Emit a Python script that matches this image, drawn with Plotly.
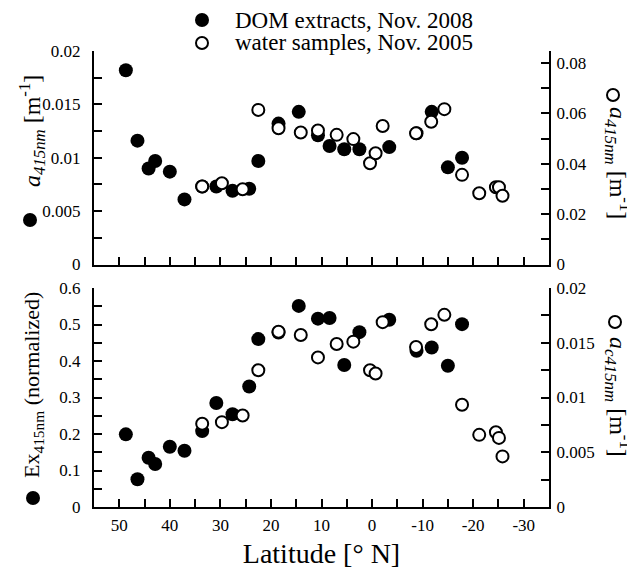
import plotly.graph_objects as go

# ---------------- data ----------------
lat_dom = [48.7, 46.4, 44.2, 42.9, 40.0, 37.1, 33.6, 30.8, 27.6, 24.3, 22.5,
           18.5, 14.5, 10.7, 8.4, 5.5, 2.5, -3.4, -8.8, -11.8, -15.0, -17.8]
a415_dom = [0.0182, 0.0116, 0.0090, 0.0097, 0.0087, 0.0061, 0.0073, 0.0073,
            0.0069, 0.0071, 0.0097, 0.0132, 0.0143, 0.0121, 0.0111, 0.0108,
            0.0108, 0.0110, 0.0123, 0.0143, 0.0091, 0.0100]
ex415_dom = [0.199, 0.076, 0.135, 0.118, 0.165, 0.154, 0.208, 0.285, 0.254,
             0.330, 0.460, 0.478, 0.551, 0.516, 0.518, 0.389, 0.479, 0.513,
             0.428, 0.437, 0.387, 0.501]

lat_water = [33.6, 29.7, 25.6, 22.5, 18.5, 14.1, 10.7, 7.0, 3.7, 0.4, -0.7,
             -2.1, -8.7, -11.7, -14.3, -17.8, -21.2, -24.5, -25.1, -25.8]
a415_water = [0.0310, 0.0323, 0.0299, 0.0614, 0.0541, 0.0524, 0.0532, 0.0515,
              0.0498, 0.0402, 0.0442, 0.0550, 0.0521, 0.0567, 0.0617, 0.0356,
              0.0283, 0.0307, 0.0307, 0.0273]
ac415_water = [0.00760, 0.00775, 0.00836, 0.01249, 0.01601, 0.01571, 0.01366,
               0.01488, 0.01510, 0.01249, 0.01219, 0.01688, 0.01461, 0.01669,
               0.01755, 0.00934, 0.00659, 0.00683, 0.00631, 0.00462]

x_tickvals = [50, 40, 30, 20, 10, 0, -10, -20, -30]
x_ticktext = ["50", "40", "30", "20", "10", "0", "-10", "-20", "-30"]
legend_dom = "DOM extracts, Nov. 2008"
legend_water = "water samples, Nov. 2005"

# ---------------- styling ----------------
FONT = "Liberation Serif"
OFF = 8                      # default page margin of the html body
W, H = 635 - OFF, 583 - OFF
ML, MR, MT, MB = 86, 86, 43, 76
PW, PH = W - ML - MR, H - MT - MB


def px_to_paper(px, py):
    """page pixel -> paper coordinates"""
    fx, fy = px - OFF, py - OFF
    return (fx - ML) / PW, (H - MB - fy) / PH


filled = dict(symbol="circle", size=14, color="black", line=dict(width=0))
opened = dict(symbol="circle", size=12, color="white",
              line=dict(width=2, color="black"))

fig = go.Figure()
fig.add_trace(go.Scatter(x=lat_dom, y=a415_dom, mode="markers", marker=filled,
                         xaxis="x2", yaxis="y3", name=legend_dom,
                         showlegend=False))
fig.add_trace(go.Scatter(x=lat_water, y=a415_water, mode="markers",
                         marker=opened, xaxis="x2", yaxis="y4",
                         name=legend_water, showlegend=False))
fig.add_trace(go.Scatter(x=lat_dom, y=ex415_dom, mode="markers", marker=filled,
                         xaxis="x", yaxis="y", name=legend_dom,
                         showlegend=False))
fig.add_trace(go.Scatter(x=lat_water, y=ac415_water, mode="markers",
                         marker=opened, xaxis="x", yaxis="y2",
                         name=legend_water, showlegend=False))

axis_common = dict(showline=True, linewidth=2, linecolor="black",
                   ticks="inside", ticklen=8, tickwidth=1.5, tickcolor="black",
                   showgrid=False, zeroline=False, mirror=False,
                   tickfont=dict(family=FONT, size=17, color="black"))
minor_common = dict(ticks="inside", ticklen=8, tickwidth=1.5,
                    tickcolor="black", showgrid=False)

top_dom = [(H - MB - (264.5 - OFF)) / PH, 1.0]
bot_dom = [0.0, (H - MB - (288 - OFF)) / PH]

fig.update_layout(
    width=W, height=H,
    margin=dict(l=ML, r=MR, t=MT, b=MB),
    paper_bgcolor="white", plot_bgcolor="white",
    font=dict(family=FONT, color="black"),
    showlegend=False,
    xaxis=dict(axis_common, domain=[0, 1], range=[55, -35], anchor="y",
               tickvals=x_tickvals, ticktext=x_ticktext,
               minor=dict(minor_common, dtick=5, tick0=0),
               ticklabelstandoff=2,
               title=dict(text="Latitude [° N]",
                          font=dict(family=FONT, size=28), standoff=9)),
    xaxis2=dict(axis_common, domain=[0, 1], range=[55, -35], anchor="y3",
                matches="x", tickvals=x_tickvals, showticklabels=False,
                minor=dict(minor_common, dtick=5, tick0=0)),
    yaxis=dict(axis_common, domain=bot_dom, range=[0, 0.6], anchor="x",
               dtick=0.1, minor=dict(minor_common, dtick=0.05),
               ticklabelstandoff=8),
    yaxis2=dict(axis_common, range=[0, 0.02], anchor="x", overlaying="y",
                side="right", dtick=0.005,
                minor=dict(minor_common, dtick=0.0025), ticklabelstandoff=2),
    yaxis3=dict(axis_common, domain=top_dom, range=[0, 0.02], anchor="x2",
                dtick=0.005, minor=dict(minor_common, dtick=0.0025),
                ticklabelstandoff=8),
    yaxis4=dict(axis_common, range=[0, 0.0848], anchor="x2", overlaying="y3",
                side="right", dtick=0.02,
                minor=dict(minor_common, dtick=0.01), ticklabelstandoff=2),
)

annotations = []
shapes = []


def circle(px, py, is_filled, d=14):
    x, y = px_to_paper(px, py)
    r = d / 2
    shapes.append(dict(type="circle", xref="paper", yref="paper",
                       xsizemode="pixel", ysizemode="pixel",
                       xanchor=x, yanchor=y, x0=-r, x1=r, y0=-r, y1=r,
                       fillcolor="black" if is_filled else "white",
                       line=dict(color="black", width=0 if is_filled else 2)))


def label(px, py, text, size, angle=0, xanchor="center"):
    x, y = px_to_paper(px, py)
    annotations.append(dict(xref="paper", yref="paper", x=x, y=y, text=text,
                            showarrow=False, textangle=angle,
                            xanchor=xanchor, yanchor="middle",
                            font=dict(family=FONT, size=size, color="black")))


# legend (top)
circle(202, 20, True)
circle(202, 43, False, d=12)
label(233, 20, legend_dom, 23, xanchor="left")
label(233, 43, legend_water, 23, xanchor="left")

# left axis titles
label(32, 131, "<i>a</i><sub><i>415nm</i></sub> [m<sup>-1</sup>]", 24, -90)
circle(30, 220, True)
label(33, 385, "Ex<sub>415nm</sub> (normalized)", 22, -90)
circle(33, 498, True)

# right axis titles
circle(613, 95, False, d=12)
label(618, 163, "<i>a</i><sub><i>415nm</i></sub> [m<sup>-1</sup>]", 24, 90)
circle(615, 322, False, d=12)
label(618, 397, "<i>a</i><sub><i>c415nm</i></sub> [m<sup>-1</sup>]", 24, 90)

fig.update_layout(annotations=annotations, shapes=shapes)

fig.write_html("out.html")
